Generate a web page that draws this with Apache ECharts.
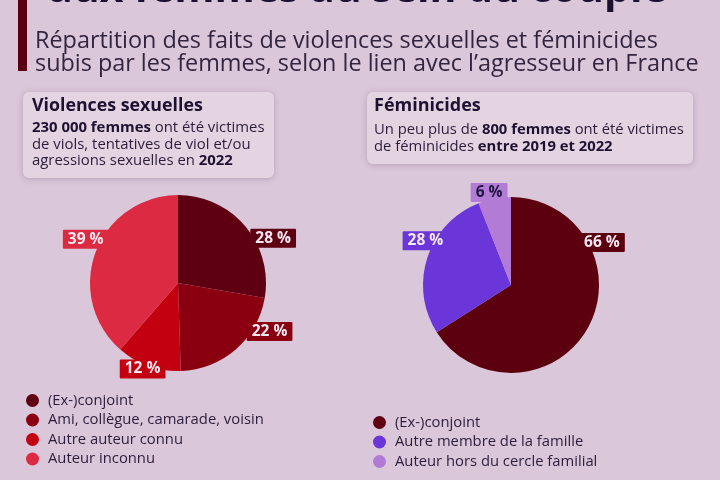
<!DOCTYPE html>
<html><head><meta charset="utf-8">
<script src="https://cdn.jsdelivr.net/npm/echarts@6/dist/echarts.min.js"></script>
<style>html,body{margin:0;padding:0;background:#dac8da;}#c{width:720px;height:480px;}</style>
</head><body><div id="c"></div>
<script>
// ---- data ----
var catsViolences = ['(Ex-)conjoint', 'Ami, collègue, camarade, voisin', 'Autre auteur connu', 'Auteur inconnu'];
var valsViolences = [28, 22, 12, 39];
var catsFeminicides = ['(Ex-)conjoint', 'Autre membre de la famille', 'Auteur hors du cercle familial'];
var valsFeminicides = [66, 28, 6];
var titleText = 'aux femmes au sein du couple';
var subtitleLines = ['Répartition des faits de violences sexuelles et féminicides',
                     'subis par les femmes, selon le lien avec l\u2019agresseur en France'];

// ---- styles ----
var colorsViolences = ['#5e0012', '#8a0010', '#c2000f', '#dc2a42'];
var colorsFeminicides = ['#5c0010', '#6b36d9', '#b27bd6'];
var labelTextViolences = ['#f6e8f0', '#f6e8f0', '#f6e8f0', '#f6e8f0'];
var labelTextFeminicides = ['#f6e8f0', '#f6e8f0', '#1f1540'];
// label nudges relative to the default outside placement
var labelShiftViolences = [[0, 12], [6, -18], [22, 3], [18, -13]];
var labelShiftFeminicides = [[-14, -85], [26, -17], [18, -6]];
var FONT = '"Open Sans", "Noto Sans", sans-serif';
var TXT = '#2b1d3a';

function buildData(cats, vals, colors, txtColors) {
  return cats.map(function (n, i) {
    return {
      name: n, value: vals[i],
      itemStyle: { color: colors[i] },
      label: { backgroundColor: colors[i], color: txtColors[i] }
    };
  });
}
function shifter(shifts) {
  return function (p) { var s = shifts[p.dataIndex]; return { dx: s[0], dy: s[1] }; };
}

var chart = echarts.init(document.getElementById('c'), null, { renderer: 'canvas' });

var pieLabel = {
  show: true, position: 'outside', formatter: '{c} %',
  fontFamily: FONT, fontWeight: 'bold', fontSize: 15.5, padding: [2, 5, 1, 5], borderRadius: 1
};

var legendText = { fontFamily: FONT, fontSize: 14.8, color: TXT, padding: [0, 0, 0, 4] };

chart.setOption({
  backgroundColor: '#dac8da',
  animation: false,
  legend: [
    {
      data: catsViolences, orient: 'vertical', left: 21, top: 388,
      icon: 'circle', itemWidth: 13, itemHeight: 13, itemGap: 4.5,
      selectedMode: false, textStyle: legendText
    },
    {
      data: catsFeminicides, orient: 'vertical', left: 368, top: 410,
      icon: 'circle', itemWidth: 13, itemHeight: 13, itemGap: 4.5,
      selectedMode: false, textStyle: legendText
    }
  ],
  series: [
    {
      type: 'pie', center: [178, 283], radius: 88, startAngle: 90, clockwise: true,
      avoidLabelOverlap: false,
      label: pieLabel, labelLine: { show: false, length: 0, length2: 0 },
      labelLayout: shifter(labelShiftViolences),
      emphasis: { disabled: true },
      data: buildData(catsViolences, valsViolences, colorsViolences, labelTextViolences)
    },
    {
      type: 'pie', center: [511, 285], radius: 88, startAngle: 90, clockwise: true,
      avoidLabelOverlap: false,
      label: pieLabel, labelLine: { show: false, length: 0, length2: 0 },
      labelLayout: shifter(labelShiftFeminicides),
      emphasis: { disabled: true },
      data: buildData(catsFeminicides, valsFeminicides, colorsFeminicides, labelTextFeminicides)
    }
  ],
  graphic: [
    { type: 'text', left: 48, top: -30, z: 10,
      style: { text: titleText, font: 'bold 41px ' + FONT, fill: '#1e1030' } },
    { type: 'rect', shape: { x: 18, y: 0, width: 9, height: 71 }, style: { fill: '#5a0012' } },
    { type: 'text', x: 35, y: 41, style: { text: subtitleLines[0], fontFamily: FONT, fontSize: 23.4, fill: '#33253f', verticalAlign: 'middle' } },
    { type: 'text', x: 35, y: 64, style: { text: subtitleLines[1], fontFamily: FONT, fontSize: 23.4, fill: '#33253f', verticalAlign: 'middle' } },
    // box 1
    { type: 'rect', shape: { x: 23, y: 92, width: 251, height: 86, r: 6 },
      style: { fill: '#e4d4e2', shadowBlur: 6, shadowColor: 'rgba(80,40,80,0.25)', shadowOffsetY: 1 } },
    { type: 'text', x: 32, y: 106, style: { text: 'Violences sexuelles', fontFamily: FONT, fontWeight: 'bold', fontSize: 17.8, fill: '#1e1030', verticalAlign: 'middle' } },
    { type: 'text', x: 32, y: 120, style: {
        text: '{b|230 000 femmes} ont été victimes\nde viols, tentatives de viol et/ou\nagressions sexuelles en {b|2022}',
        fontFamily: FONT, fontSize: 14.9, lineHeight: 16.5, fill: '#2b1d3a',
        rich: { b: { fontFamily: FONT, fontWeight: 'bold', fontSize: 14.9, fill: '#1e1030', lineHeight: 16.5 } } } },
    // box 2
    { type: 'rect', shape: { x: 367, y: 92, width: 326, height: 72, r: 6 },
      style: { fill: '#e4d4e2', shadowBlur: 6, shadowColor: 'rgba(80,40,80,0.25)', shadowOffsetY: 1 } },
    { type: 'text', x: 374, y: 106, style: { text: 'Féminicides', fontFamily: FONT, fontWeight: 'bold', fontSize: 18, fill: '#1e1030', verticalAlign: 'middle' } },
    { type: 'text', x: 374, y: 121, style: {
        text: 'Un peu plus de {b|800 femmes} ont été victimes\nde féminicides {b|entre 2019 et 2022}',
        fontFamily: FONT, fontSize: 14.8, lineHeight: 17.5, fill: '#2b1d3a',
        rich: { b: { fontFamily: FONT, fontWeight: 'bold', fontSize: 14.8, fill: '#1e1030', lineHeight: 17.5 } } } }
  ]
});
</script></body></html>
